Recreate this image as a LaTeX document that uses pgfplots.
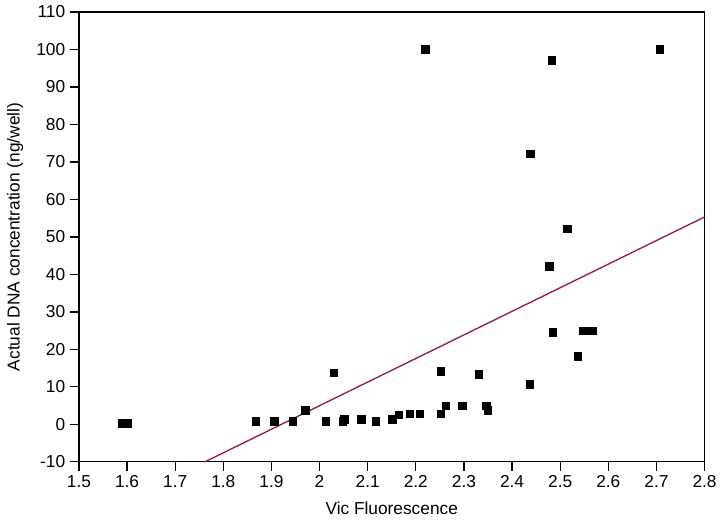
\documentclass[border={2pt 0pt 3pt 1pt}]{standalone}
\usepackage{pgfplots}
\pgfplotsset{compat=1.18}
\usepackage{fontspec}
\setmainfont{Liberation Sans}
\definecolor{fitred}{RGB}{150,30,55}

\begin{document}
\begin{tikzpicture}
\begin{axis}[
    scale only axis,
    width=470pt, height=338pt,
    xmin=1.5, xmax=2.8,
    ymin=-10, ymax=110,
    xtick={1.5,1.6,...,2.8},
    ytick={-10,0,...,110},
    axis lines=box,
    xtick pos=bottom,
    ytick pos=left,
    tick align=outside,
    major tick length=6.75pt,
    axis line style={line width=1pt, black},
    tick style={line width=1pt, black},
    font=\fontsize{13}{15}\selectfont,
    /pgf/number format/assume math mode=true,
    xlabel={Vic Fluorescence},
    ylabel={Actual DNA concentration (ng/well)},
    xlabel style={yshift=-4pt},
    ylabel style={yshift=3pt},
    clip=false,
    ]
% fitted line
\addplot[fitred, line width=1pt] coordinates {(1.762,-10) (2.8,55.3)};
% measured points
\addplot[only marks, mark=square*, mark size=2.8pt, black] coordinates {
(1.590,0.3) (1.600,0.3)
(1.867,0.8) (1.906,0.8) (1.944,0.8) (1.970,3.7)
(2.013,0.8) (2.029,13.7) (2.048,0.8) (2.051,1.3)
(2.087,1.3) (2.117,0.8) (2.151,1.3) (2.165,2.5)
(2.188,2.8) (2.208,2.8) (2.220,100.0) (2.252,2.8)
(2.252,14.1) (2.262,5.0) (2.297,5.0) (2.331,13.3)
(2.346,5.0) (2.350,3.7) (2.437,10.7) (2.438,72.2)
(2.477,42.1) (2.482,97.1) (2.485,24.5) (2.515,52.1)
(2.537,18.2) (2.548,25.0) (2.567,25.0) (2.707,100.0)
};
\end{axis}
\end{tikzpicture}
\end{document}
